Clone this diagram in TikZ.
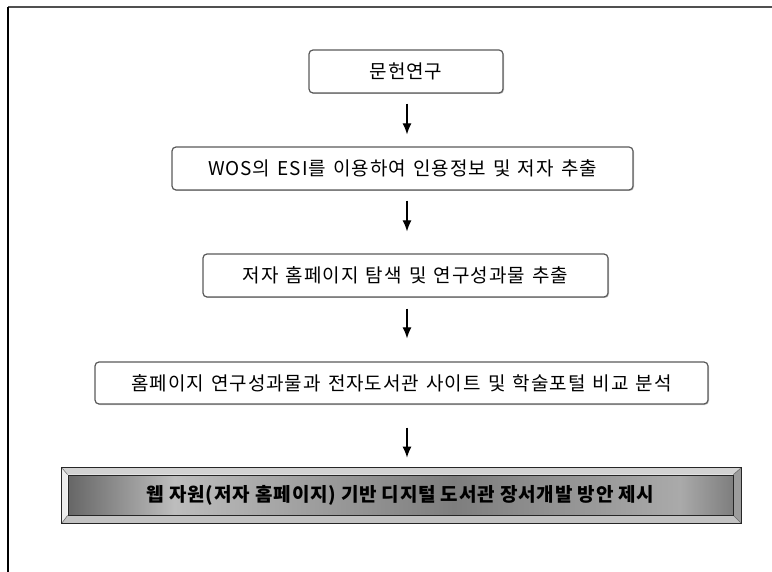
\documentclass[tikz,border=0pt]{standalone}
\usepackage{fontspec}
\setmainfont[LetterSpace=5]{Noto Sans CJK KR}
\usetikzlibrary{arrows.meta,calc,shadows,backgrounds}

\definecolor{boxline}{HTML}{5A5A5A}
\definecolor{framegray}{HTML}{505050}
\definecolor{bevtop}{HTML}{D2D2D2}
\definecolor{bevleft}{HTML}{ECECEC}
\definecolor{bevright}{HTML}{9C9C9C}
\definecolor{bevbot}{HTML}{C2C2C2}
\definecolor{faceA}{HTML}{666666}
\definecolor{faceB}{HTML}{BDBDBD}
\definecolor{faceC}{HTML}{7E7E7E}
\definecolor{faceD}{HTML}{AAAAAA}

\pgfdeclarehorizontalshading{facegrad}{100bp}{color(0bp)=(faceA); color(25bp)=(faceA); color(33bp)=(faceB); color(54bp)=(faceC); color(71bp)=(faceD); color(75bp)=(faceC); color(100bp)=(faceC)}

\newcommand{\stepfont}{\fontsize{19}{23}\selectfont\spaceskip=0.38em\relax}
\newcommand{\resultfont}{\fontsize{19}{23}\selectfont\bfseries\spaceskip=0.25em\relax}

\begin{document}
\begin{tikzpicture}[x=1pt,y=-1pt,
    stepbox/.style={draw=boxline, line width=1.2pt, rounded corners=4pt, fill=white,
        inner sep=0pt, minimum height=43pt, font=\stepfont,
        drop shadow={shadow xshift=1pt, shadow yshift=-1pt, fill=black!45}},
    resultbox/.style={draw=black!85, line width=0.8pt, shading=facegrad,
        inner sep=0pt, minimum height=40pt, font=\resultfont},
    flow/.style={-{Latex[length=11pt,width=9pt]}, line width=1.2pt}]
    \useasboundingbox (0,0) rectangle (772,572);

    % frame
    \draw[framegray, line width=1.6pt] (8,7) -- (772,7);
    \draw[black, line width=1.4pt] (8,7) -- (8,572);

    % steps
    \node[stepbox, minimum width=194pt] (lit) at (406,71.5) {문헌연구};
    \node[stepbox, minimum width=461pt] (wos) at (402.5,168.5) {WOS의 ESI를 이용하여 인용정보 및 저자 추출};
    \node[stepbox, minimum width=405pt] (srch) at (405.5,275.5) {저자 홈페이지 탐색 및 연구성과물 추출};
    \node[stepbox, minimum width=613pt, minimum height=42pt] (cmp) at (401.5,383) {홈페이지 연구성과물과 전자도서관 사이트 및 학술포털 비교 분석};

    % result
    \node[resultbox, minimum width=665pt] (plan) at (400.5,495) {웹 자원(저자 홈페이지) 기반 디지털 도서관 장서개발 방안 제시};
    \begin{scope}[on background layer]
        \coordinate (bnw) at ($(plan.north west)+(-6,-7)$);
        \coordinate (bne) at ($(plan.north east)+(8,-7)$);
        \coordinate (bse) at ($(plan.south east)+(8,8)$);
        \coordinate (bsw) at ($(plan.south west)+(-6,8)$);
        \fill[bevtop] (bnw) -- (bne) -- (plan.north east) -- (plan.north west) -- cycle;
        \fill[bevleft] (bnw) -- (plan.north west) -- (plan.south west) -- (bsw) -- cycle;
        \fill[bevright] (bne) -- (bse) -- (plan.south east) -- (plan.north east) -- cycle;
        \fill[bevbot] (bsw) -- (plan.south west) -- (plan.south east) -- (bse) -- cycle;
        \draw[black!60, line width=0.5pt] (bnw) -- (plan.north west) (bne) -- (plan.north east)
            (bse) -- (plan.south east) (bsw) -- (plan.south west);
        \draw[black!85, line width=0.9pt] (bnw) rectangle (bse);
    \end{scope}

    % arrows
    \draw[flow] ([shift={(1,10)}]lit.south) -- ([shift={(1,-12)}]lit.south |- wos.north);
    \draw[flow] ([shift={(4.5,10)}]wos.south) -- ([shift={(4.5,-22)}]wos.south |- srch.north);
    \draw[flow] ([shift={(1.5,11)}]srch.south) -- ([shift={(1.5,-23)}]srch.south |- cmp.north);
    \draw[flow] ([shift={(5.5,23)}]cmp.south) -- ([shift={(5.5,-17)}]cmp.south |- plan.north);
\end{tikzpicture}
\end{document}
